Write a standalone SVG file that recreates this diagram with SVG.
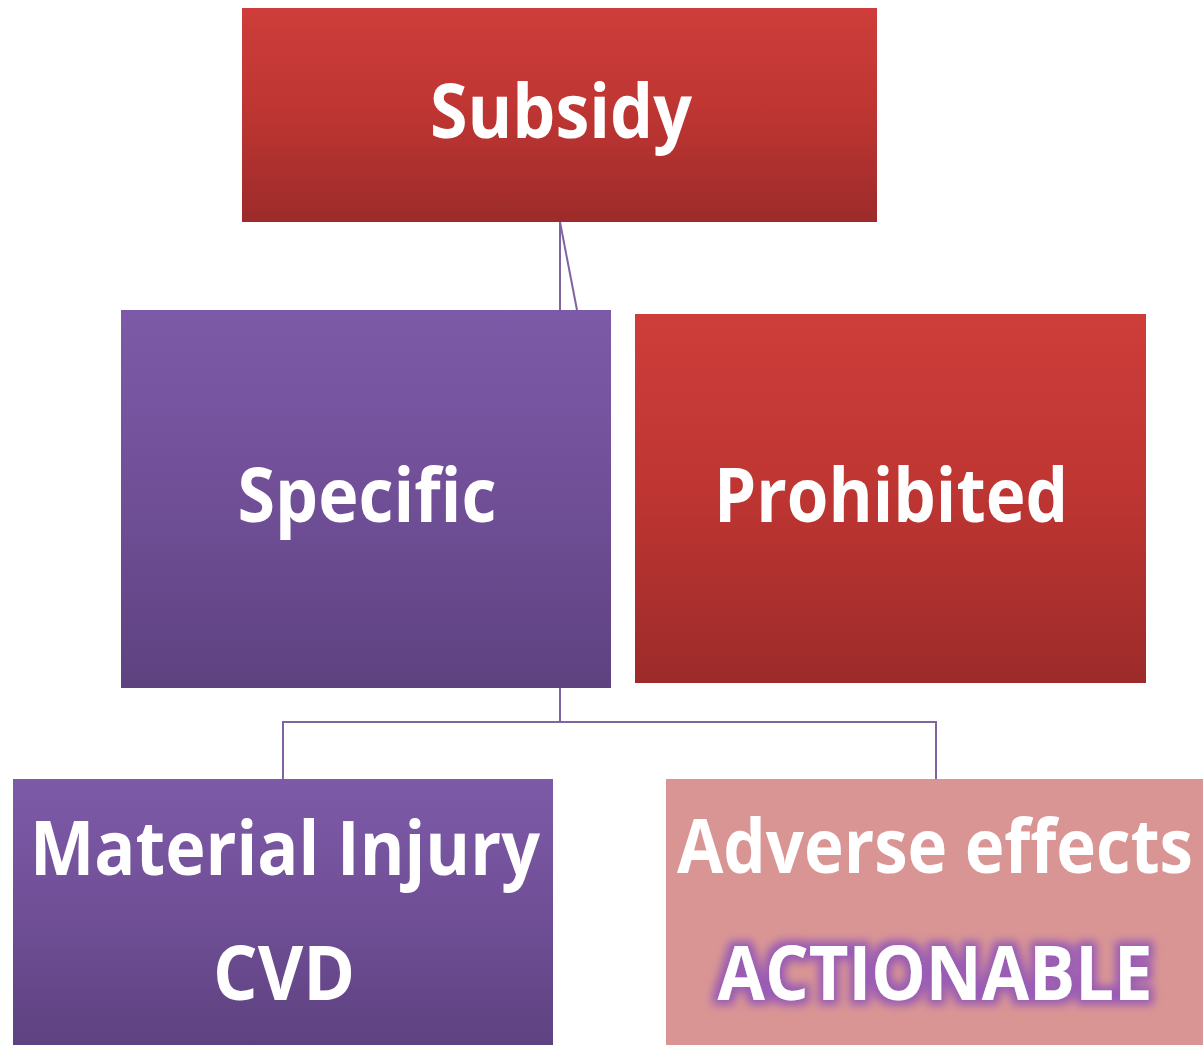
<svg xmlns="http://www.w3.org/2000/svg" width="1203" height="1045" viewBox="0 0 1203 1045">
<defs>
<linearGradient id="red" x1="0" y1="0" x2="0" y2="1">
<stop offset="0" stop-color="#CE3D3A"/>
<stop offset="0.5" stop-color="#BD3532"/>
<stop offset="1" stop-color="#9C2B2A"/>
</linearGradient>
<linearGradient id="purple" x1="0" y1="0" x2="0" y2="1">
<stop offset="0" stop-color="#7D5AA7"/>
<stop offset="0.5" stop-color="#704F97"/>
<stop offset="1" stop-color="#5E4280"/>
</linearGradient>
<filter id="glow" x="-10%" y="-30%" width="120%" height="160%">
<feMorphology in="SourceAlpha" operator="dilate" radius="5" result="d"/>
<feGaussianBlur in="d" stdDeviation="4" result="b"/>
<feFlood flood-color="#9A5CB4" flood-opacity="1"/>
<feComposite in2="b" operator="in" result="g"/>
<feMerge><feMergeNode in="g"/><feMergeNode in="SourceGraphic"/></feMerge>
</filter>
</defs>
<style>
.lbl{font-family:"Open Sans","Noto Sans","DejaVu Sans",sans-serif;font-weight:bold;fill:#FFFFFF;text-anchor:middle;font-size:76px}
.con{fill:none;stroke:#8064A2;stroke-width:2}
</style>
<g id="connectors">
<path class="con" d="M560 222 V310"/>
<path class="con" d="M560 222 L577 310"/>
<path class="con" d="M560 688 V722 M283 779 V722 H936 V779"/>
</g>
<g id="subsidy">
<rect x="242" y="8" width="635" height="214" fill="url(#red)"/>
<text class="lbl" x="561" y="138" textLength="262" lengthAdjust="spacingAndGlyphs">Subsidy</text>
</g>
<g id="specific">
<rect x="121" y="310" width="490" height="378" fill="url(#purple)"/>
<text class="lbl" x="367" y="522" textLength="259" lengthAdjust="spacingAndGlyphs">Specific</text>
</g>
<g id="prohibited">
<rect x="635" y="314" width="511" height="369" fill="url(#red)"/>
<text class="lbl" x="891" y="522" textLength="354" lengthAdjust="spacingAndGlyphs">Prohibited</text>
</g>
<g id="material-injury">
<rect x="13" y="779" width="540" height="266" fill="url(#purple)"/>
<text class="lbl" x="285" y="875" textLength="510" lengthAdjust="spacingAndGlyphs">Material Injury</text>
<text class="lbl" x="284" y="1000" textLength="142" lengthAdjust="spacingAndGlyphs">CVD</text>
</g>
<g id="adverse-effects">
<rect x="666" y="779" width="537" height="266" fill="#D99594"/>
<text class="lbl" x="935" y="873" textLength="516" lengthAdjust="spacingAndGlyphs">Adverse effects</text>
<text class="lbl" x="935" y="1000" textLength="435" lengthAdjust="spacingAndGlyphs" filter="url(#glow)">ACTIONABLE</text>
</g>
</svg>
